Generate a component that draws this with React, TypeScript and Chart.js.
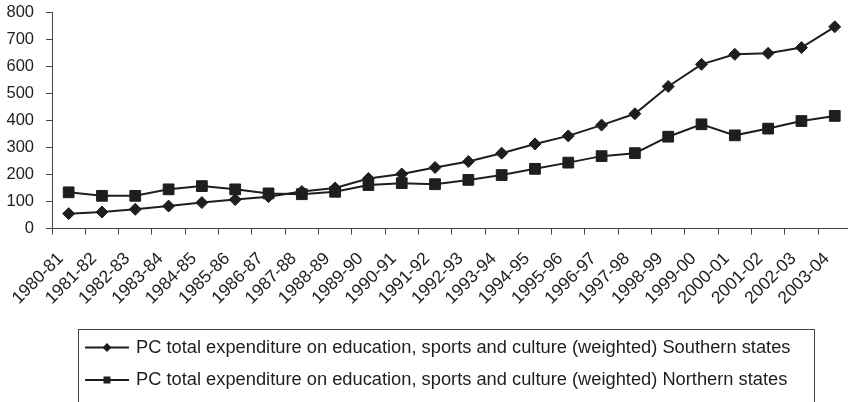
import React, { useEffect, useRef } from "react";
import { Chart, registerables } from "chart.js";

Chart.register(...registerables);

const categories = [
  "1980-81", "1981-82", "1982-83", "1983-84", "1984-85", "1985-86", "1986-87", "1987-88",
  "1988-89", "1989-90", "1990-91", "1991-92", "1992-93", "1993-94", "1994-95", "1995-96",
  "1996-97", "1997-98", "1998-99", "1999-00", "2000-01", "2001-02", "2002-03", "2003-04",
];

const southernLabel = "PC total expenditure on education, sports and culture (weighted) Southern states";
const northernLabel = "PC total expenditure on education, sports and culture (weighted) Northern states";

const southern = [55, 61, 71, 83, 96, 107, 118, 137, 150, 185, 202, 226, 248, 279, 313, 343, 383, 425, 526, 608, 645, 649, 670, 747];
const northern = [134, 121, 121, 145, 157, 145, 130, 127, 136, 161, 168, 164, 180, 198, 221, 244, 268, 279, 340, 386, 345, 370, 398, 417];

const yMin = 0;
const yMax = 800;
const yStep = 100;

const INK = "#1e1e1e";
const FONT = "'Liberation Sans', Arial, sans-serif";

const boxLegend = {
  id: "boxLegend",
  afterDraw(chart: any) {
    const ctx = chart.ctx;
    ctx.save();
    ctx.strokeStyle = "#444";
    ctx.lineWidth = 1;
    ctx.strokeRect(78.5, 329.5, 736, 90);
    const rows = [
      { y: 347.5, style: "diamond" },
      { y: 380, style: "square" },
    ];
    chart.data.datasets.forEach((ds: any, i: number) => {
      const r = rows[i];
      ctx.strokeStyle = INK;
      ctx.fillStyle = INK;
      ctx.lineWidth = 2;
      ctx.beginPath();
      ctx.moveTo(85, r.y);
      ctx.lineTo(129, r.y);
      ctx.stroke();
      ctx.beginPath();
      if (r.style === "diamond") {
        ctx.moveTo(107 - 4.5, r.y);
        ctx.lineTo(107, r.y - 4.5);
        ctx.lineTo(107 + 4.5, r.y);
        ctx.lineTo(107, r.y + 4.5);
        ctx.closePath();
      } else {
        ctx.rect(107 - 3.5, r.y - 3.5, 7, 7);
      }
      ctx.fill();
      ctx.font = `18.3px ${FONT}`;
      ctx.textBaseline = "middle";
      ctx.textAlign = "left";
      ctx.fillText(ds.label, 136, r.y);
    });
    ctx.restore();
  },
};

export default function App() {
  const ref = useRef<HTMLCanvasElement | null>(null);
  useEffect(() => {
    if (!ref.current) return;
    const chart = new Chart(ref.current, {
      type: "line",
      data: {
        labels: categories,
        datasets: [
          {
            label: southernLabel,
            data: southern,
            borderColor: INK,
            backgroundColor: INK,
            borderWidth: 2,
            pointStyle: "rectRot",
            pointRadius: 6,
            pointBackgroundColor: INK,
            pointBorderColor: INK,
            pointBorderWidth: 1,
            tension: 0,
          },
          {
            label: northernLabel,
            data: northern,
            borderColor: INK,
            backgroundColor: INK,
            borderWidth: 2,
            pointStyle: "rect",
            pointRadius: 7.6,
            pointBackgroundColor: INK,
            pointBorderColor: INK,
            pointBorderWidth: 1,
            tension: 0,
          },
        ],
      },
      options: {
        responsive: false,
        animation: false,
        devicePixelRatio: 1,
        layout: { padding: { top: 12.5, right: 8, bottom: 73.5, left: 0 } },
        plugins: {
          legend: { display: false },
          tooltip: { enabled: false },
        },
        scales: {
          x: {
            offset: true,
            grid: {
              offset: true,
              drawOnChartArea: false,
              drawTicks: true,
              tickLength: 6,
              color: "#444",
            },
            border: { display: true, color: "#444", width: 1 },
            ticks: {
              autoSkip: false,
              minRotation: 45,
              maxRotation: 45,
              padding: 14,
              labelOffset: -8,
              color: INK,
              font: { family: FONT, size: 17.5 },
            },
            afterFit: (s: any) => {
              s.height = 100;
              s.paddingLeft = 0;
              s.paddingRight = 0;
            },
          },
          y: {
            min: yMin,
            max: yMax,
            grid: {
              drawOnChartArea: false,
              drawTicks: true,
              tickLength: 6,
              color: "#444",
            },
            border: { display: true, color: "#444", width: 1 },
            ticks: {
              stepSize: yStep,
              padding: 12,
              color: INK,
              font: { family: FONT, size: 16.5 },
            },
            afterFit: (s: any) => {
              s.width = 52;
              s.paddingTop = 0;
              s.paddingBottom = 0;
            },
          },
        },
      },
      plugins: [boxLegend],
    });
    return () => chart.destroy();
  }, []);
  return (
    <div
      style={{
        position: "fixed",
        left: 0,
        top: 0,
        width: 848,
        height: 402,
        overflow: "hidden",
        background: "#fff",
      }}
    >
      <canvas ref={ref} width={860} height={402} style={{ display: "block" }} />
    </div>
  );
}
